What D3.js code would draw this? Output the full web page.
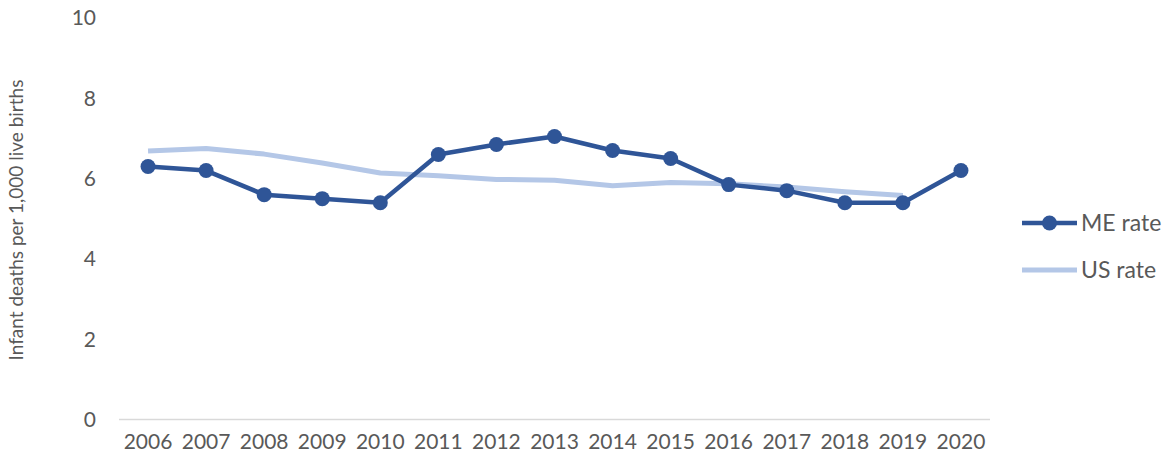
<!DOCTYPE html>
<html>
<head>
<meta charset="utf-8">
<script src="https://cdn.jsdelivr.net/npm/d3@7"></script>
<style>
  body { margin: 0; background: #fff; }
  text { font-family: Lato, "Open Sans", sans-serif; fill: #595959; }
</style>
</head>
<body>
<svg id="chart" width="1172" height="464"></svg>
<script>
// Chart data
const years = ['2006', '2007', '2008', '2009', '2010', '2011', '2012', '2013', '2014', '2015', '2016', '2017', '2018', '2019', '2020'];
const meRate = [6.3, 6.2, 5.6, 5.5, 5.4, 6.6, 6.85, 7.05, 6.7, 6.5, 5.85, 5.7, 5.4, 5.4, 6.2];
const usRate = [6.69, 6.75, 6.61, 6.39, 6.14, 6.07, 5.98, 5.96, 5.82, 5.90, 5.87, 5.79, 5.67, 5.58, null];
const yTicks = [0, 2, 4, 6, 8, 10];

const svg = d3.select('#chart');
const plotLeft = 119, plotRight = 990, plotTop = 18, plotBottom = 419.5;

const x = d3.scalePoint().domain(years).range([plotLeft, plotRight]).padding(0.5);
const y = d3.scaleLinear().domain([0, 10]).range([plotBottom, plotTop]);

// Baseline axis
svg.append('line')
  .attr('x1', plotLeft).attr('x2', plotRight)
  .attr('y1', y(0)).attr('y2', y(0))
  .attr('stroke', '#d9d9d9').attr('stroke-width', 1.5);

// Y tick labels
svg.selectAll('.ytick')
  .data(yTicks)
  .enter()
  .append('text')
  .attr('x', 96)
  .attr('y', d => y(d))
  .attr('dy', '0.35em')
  .attr('text-anchor', 'end')
  .attr('font-size', 21)
  .text(d => d);

// X tick labels
svg.selectAll('.xtick')
  .data(years)
  .enter()
  .append('text')
  .attr('x', d => x(d))
  .attr('y', 449)
  .attr('text-anchor', 'middle')
  .attr('font-size', 21)
  .text(d => d);

// Y axis title
svg.append('text')
  .attr('transform', 'translate(23,220) rotate(-90)')
  .attr('text-anchor', 'middle')
  .attr('font-size', 19)
  .text('Infant deaths per 1,000 live births');

// US line
const line = d3.line()
  .defined(d => d[1] != null)
  .x(d => x(d[0]))
  .y(d => y(d[1]));
svg.append('path')
  .datum(years.map((yr, i) => [yr, usRate[i]]))
  .attr('d', line)
  .attr('fill', 'none')
  .attr('stroke', '#b4c7e7')
  .attr('stroke-width', 5)
  .attr('stroke-linejoin', 'round');

// ME line
const meData = years.map((yr, i) => [yr, meRate[i]]);
svg.append('path')
  .datum(meData)
  .attr('d', line)
  .attr('fill', 'none')
  .attr('stroke', '#2f5597')
  .attr('stroke-width', 4.5)
  .attr('stroke-linejoin', 'round');

svg.selectAll('.me-dot')
  .data(meData)
  .enter()
  .append('circle')
  .attr('cx', d => x(d[0]))
  .attr('cy', d => y(d[1]))
  .attr('r', 7.5)
  .attr('fill', '#2f5597');

// Legend
const legend = [
  { name: 'ME rate', color: '#2f5597', width: 4.5, dot: true, y: 223 },
  { name: 'US rate', color: '#b4c7e7', width: 5, dot: false, y: 270 }
];
legend.forEach(item => {
  svg.append('line')
    .attr('x1', 1022).attr('x2', 1077)
    .attr('y1', item.y).attr('y2', item.y)
    .attr('stroke', item.color).attr('stroke-width', item.width);
  if (item.dot) {
    svg.append('circle').attr('cx', 1049.5).attr('cy', item.y).attr('r', 7.5).attr('fill', item.color);
  }
  svg.append('text')
    .attr('x', 1081)
    .attr('y', item.y)
    .attr('dy', '0.35em')
    .attr('font-size', 23)
    .text(item.name);
});
</script>
</body>
</html>
